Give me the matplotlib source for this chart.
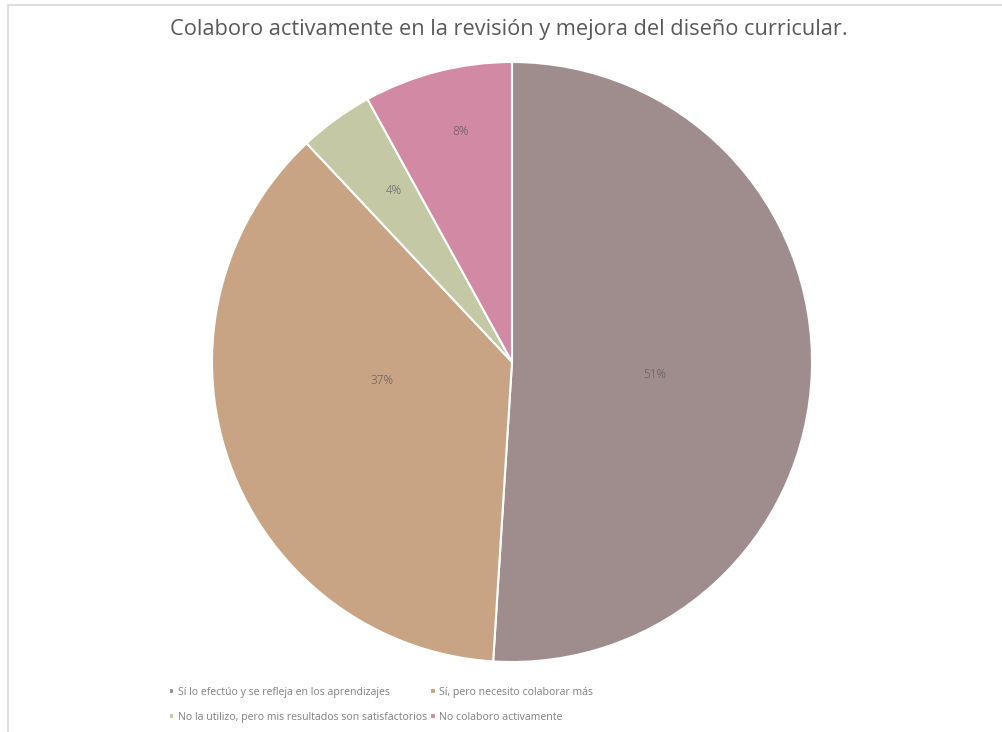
import matplotlib.pyplot as plt
from matplotlib.patches import Rectangle

plt.rcParams['font.family'] = ['Open Sans', 'DejaVu Sans']

# data
labels = ["Sí lo efectúo y se refleja en los aprendizajes",
          "Sí, pero necesito colaborar más",
          "No la utilizo, pero mis resultados son satisfactorios",
          "No colaboro activamente"]
values = [51, 37, 4, 8]
colors = ["#9f8d8d", "#c8a484", "#c4c8a5", "#d28aa4"]
# where the % labels sit inside the pie (unit-radius coords)
label_pos = [(0.477, -0.043), (-0.433, -0.063), (-0.393, 0.573), (-0.173, 0.767)]

W, H = 1003, 732
fig = plt.figure(figsize=(W / 100, H / 100), dpi=100)

# outer frame (cut off right/bottom like the screenshot)
fig.patches.append(Rectangle((8 / W, -0.1), 1.2, 1.1 - 5 / H, transform=fig.transFigure,
                             fill=False, edgecolor="#d9d9d9", lw=1.2))

ax = fig.add_axes([212 / W, 70 / H, 600 / W, 600 / H])
wedges, texts, autotexts = ax.pie(values, colors=colors, startangle=90, counterclock=False,
                                  autopct="%1.0f%%", radius=1,
                                  wedgeprops=dict(edgecolor="white", linewidth=1.5),
                                  textprops=dict(color="#595959", fontsize=8.5, fontweight="light"))
for t, p in zip(autotexts, label_pos):
    t.set_position(p)
ax.set_xlim(-1, 1)
ax.set_ylim(-1, 1)
ax.set_aspect("equal")

fig.text(509 / W, 1 - 30 / H, "Colaboro activamente en la revisión y mejora del diseño curricular.",
         ha="center", va="center", fontsize=15.7, color="#595959")

# legend filled row by row
order = [0, 2, 1, 3]
leg = fig.legend([wedges[i] for i in order], [labels[i] for i in order], ncol=2,
                 loc="upper left", bbox_to_anchor=(159 / W, 1 - 677 / H),
                 frameon=False, fontsize=7.6, handlelength=0.55, handleheight=0.55,
                 handletextpad=0.35, columnspacing=0.25, labelspacing=1.35)
for t in leg.get_texts():
    t.set_color("#7f7f7f")

fig.savefig("out.png", dpi=100)
